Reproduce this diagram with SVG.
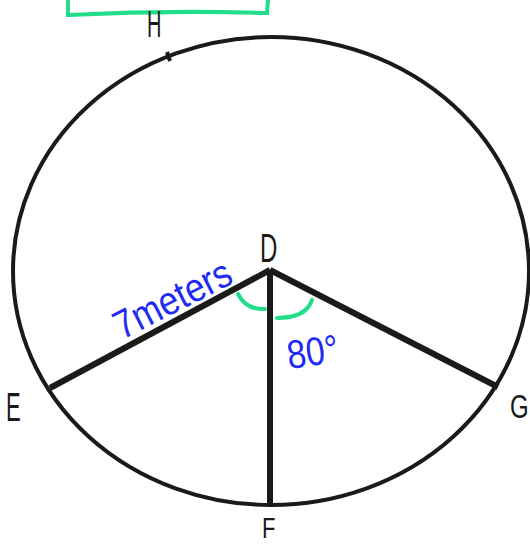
<svg xmlns="http://www.w3.org/2000/svg" width="530" height="544" viewBox="0 0 530 544">
<style>
.lbl{font-family:"Liberation Sans",Arial,sans-serif;font-size:40px;fill:#1a1a1a}
.blue{font-family:"Liberation Sans",Arial,sans-serif;fill:#1f2bf0}
.seg{stroke:#1a1a18;stroke-width:6;stroke-linecap:butt;fill:none}
.green{stroke:#22dd88;stroke-width:4;fill:none;stroke-linecap:round}
</style>
<rect width="530" height="544" fill="#ffffff"/>
<path class="green" d="M68,0 L68,15 Q168,10 267,13 L268,0"/>
<g id="circle">
<ellipse cx="271" cy="271" rx="258" ry="234" fill="none" stroke="#1a1a18" stroke-width="4"/>
<path d="M167,52 L170,61" stroke="#1a1a18" stroke-width="4"/>
</g>
<g id="connectors">
<line class="seg" x1="270" y1="270" x2="50" y2="388"/>
<line class="seg" x1="270" y1="270" x2="270" y2="505"/>
<line class="seg" x1="270" y1="270" x2="498" y2="387"/>
</g>
<g id="angles">
<path class="green" d="M238,294 Q246,310 265,309"/>
<path class="green" d="M277,318 Q306,318 312,300"/>
</g>
<g id="node-D"><text class="lbl" x="260" y="262" transform="translate(260 262) scale(0.6 1) translate(-260 -262)">D</text></g>
<g id="node-E"><text class="lbl" x="6" y="421" transform="translate(6 421) scale(0.55 1) translate(-6 -421)">E</text></g>
<g id="node-F"><text class="lbl" x="262" y="538" transform="translate(262 538) scale(0.55 0.75) translate(-262 -538)">F</text></g>
<g id="node-G"><text class="lbl" x="510" y="418" transform="translate(510 418) scale(0.6 0.85) translate(-510 -418)">G</text></g>
<g id="node-H"><text class="lbl" x="147" y="37" transform="translate(147 37) scale(0.5 0.9) translate(-147 -37)">H</text></g>
<text class="blue" font-size="40" transform="translate(122 340) rotate(-27) scale(0.88 1)">7meters</text>
<text class="blue" font-size="40" transform="translate(289 369) rotate(-8) scale(0.85 1)">80°</text>
</svg>
